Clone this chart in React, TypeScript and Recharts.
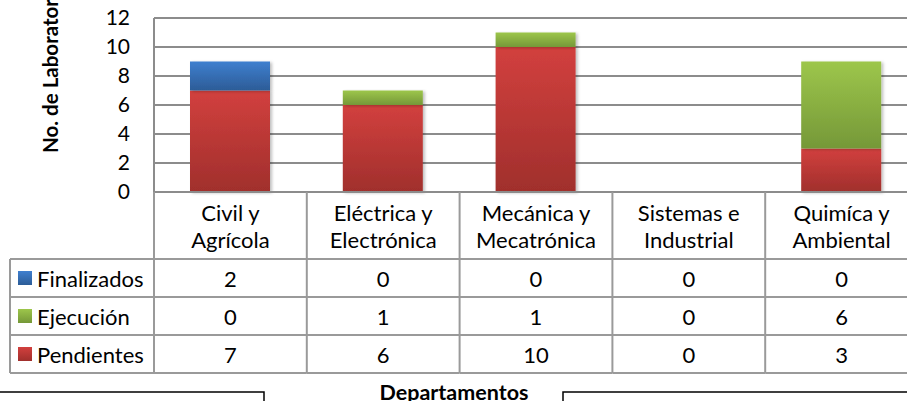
import { BarChart, Bar, XAxis, YAxis, CartesianGrid } from 'recharts';

const departamentos = [
  ['Civil y', 'Agrícola'],
  ['Eléctrica y', 'Electrónica'],
  ['Mecánica y', 'Mecatrónica'],
  ['Sistemas e', 'Industrial'],
  ['Quimíca y', 'Ambiental'],
];
const finalizados = [2, 0, 0, 0, 0];
const ejecucion = [0, 1, 1, 0, 6];
const pendientes = [7, 6, 10, 0, 3];
const yTicks = [0, 2, 4, 6, 8, 10, 12];

const FONT = 'Lato, "Noto Sans", sans-serif';
const FS = 22;
const GRID = '#8c8c8c';
const TABLE = '#9a9a9a';

// rows of the data table, top to bottom
const series = [
  { key: 'finalizados', name: 'Finalizados', values: finalizados, top: '#3f7fcf', bottom: '#2c5c97' },
  { key: 'ejecucion', name: 'Ejecución', values: ejecucion, top: '#9dc64b', bottom: '#759838' },
  { key: 'pendientes', name: 'Pendientes', values: pendientes, top: '#d2403e', bottom: '#a02f2c' },
];

const data = departamentos.map((d, i) => ({
  name: d.join(' '),
  finalizados: finalizados[i],
  ejecucion: ejecucion[i],
  pendientes: pendientes[i],
}));

const HEADER_H = 67;
const ROW_H = 38;
const LEGEND_LEFT = 10;

function TableColumn(props: any) {
  const { x, y, payload, index } = props;
  const half = payload?.offset || 76.4;
  const left = x - half;
  const right = x + half;
  const bottom = y + HEADER_H + ROW_H * series.length;
  const lines = departamentos[index] || [];
  const txt = { fontFamily: FONT, fontSize: FS, fill: '#000', textAnchor: 'middle' as const, dominantBaseline: 'central' as const };

  return (
    <g>
      {index === 0 && (
        <g>
          <line x1={left} y1={y} x2={left} y2={bottom} stroke={TABLE} strokeWidth={2} />
          <line x1={LEGEND_LEFT} y1={y + HEADER_H} x2={LEGEND_LEFT} y2={bottom} stroke={TABLE} strokeWidth={2} />
          {series.map((s, r) => {
            const rowTop = y + HEADER_H + r * ROW_H;
            return (
              <g key={s.key}>
                <line x1={LEGEND_LEFT} y1={rowTop} x2={left} y2={rowTop} stroke={TABLE} strokeWidth={2} />
                <rect x={18} y={rowTop + ROW_H / 2 - 7} width={14} height={14} fill={`url(#grad-${s.key})`} />
                <text x={37} y={rowTop + ROW_H / 2} fontFamily={FONT} fontSize={FS} fill="#000" dominantBaseline="central">
                  {s.name}
                </text>
              </g>
            );
          })}
          <line x1={LEGEND_LEFT} y1={bottom} x2={left} y2={bottom} stroke={TABLE} strokeWidth={2} />
        </g>
      )}
      <line x1={right} y1={y} x2={right} y2={bottom} stroke={TABLE} strokeWidth={2} />
      <text x={x} y={y + 20} {...txt}>{lines[0]}</text>
      <text x={x} y={y + 47} {...txt}>{lines[1]}</text>
      {series.map((s, r) => {
        const rowTop = y + HEADER_H + r * ROW_H;
        return (
          <g key={s.key}>
            <line x1={left} y1={rowTop} x2={right} y2={rowTop} stroke={TABLE} strokeWidth={2} />
            <text x={x} y={rowTop + ROW_H / 2} {...txt}>{s.values[index]}</text>
          </g>
        );
      })}
      <line x1={left} y1={bottom} x2={right} y2={bottom} stroke={TABLE} strokeWidth={2} />
    </g>
  );
}

export default function App() {
  return (
    <div style={{ position: 'relative', width: 907, height: 401, overflow: 'hidden', background: '#fff' }}>
      <style>{'html,body{margin:0;padding:0;overflow:hidden;}'}</style>
      <BarChart
        width={920}
        height={401}
        data={data}
        margin={{ top: 18, right: 2, left: 0, bottom: 0 }}
        barSize={80}
      >
        <defs>
          {series.map((s) => (
            <linearGradient key={s.key} id={`grad-${s.key}`} x1="0" y1="0" x2="0" y2="1">
              <stop offset="0%" stopColor={s.top} />
              <stop offset="100%" stopColor={s.bottom} />
            </linearGradient>
          ))}
          <filter id="barShadow" x="-10%" y="-10%" width="130%" height="130%">
            <feDropShadow dx={2} dy={1} stdDeviation={1.5} floodColor="#000" floodOpacity={0.25} />
          </filter>
        </defs>
        <CartesianGrid vertical={false} stroke={GRID} strokeWidth={2} />
        <XAxis
          dataKey="name"
          height={209}
          interval={0}
          tickLine={false}
          tickSize={0}
          tickMargin={0}
          axisLine={{ stroke: GRID, strokeWidth: 2 }}
          tick={<TableColumn />}
        />
        <YAxis
          width={154}
          domain={[0, 12]}
          ticks={yTicks}
          interval={0}
          tickLine={false}
          tickSize={0}
          tickMargin={24}
          axisLine={{ stroke: GRID, strokeWidth: 2 }}
          tick={{ fontFamily: FONT, fontSize: 21, fill: '#000' }}
        />
        {[...series].reverse().map((s) => (
          <Bar
            key={s.key}
            dataKey={s.key}
            name={s.name}
            stackId="a"
            fill={`url(#grad-${s.key})`}
            filter="url(#barShadow)"
            isAnimationActive={false}
          />
        ))}
      </BarChart>
      <svg width={907} height={401} style={{ position: 'absolute', left: 0, top: 0, pointerEvents: 'none' }}>
        <text
          transform="translate(58,153) rotate(-90)"
          fontFamily={FONT}
          fontSize={20.5}
          fontWeight="bold"
          fill="#000"
        >
          No. de Laboratorios
        </text>
        <text x={454} y={400} textAnchor="middle" fontFamily={FONT} fontSize={21.5} fontWeight="bold" fill="#000">
          Departamentos
        </text>
        <polyline points="0,392 264,392 264,401" fill="none" stroke="#000" strokeWidth={1.5} />
        <polyline points="563,401 563,392 907,392" fill="none" stroke="#000" strokeWidth={1.5} />
      </svg>
    </div>
  );
}
